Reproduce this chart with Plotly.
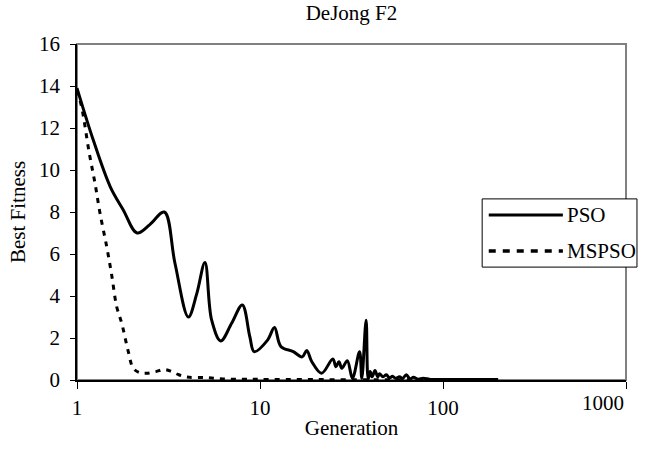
import plotly.graph_objects as go

# ---- data ----
pso_gen = [1, 1.23, 1.52, 1.79, 2.13, 2.5, 3, 3.43, 4.06, 4.51, 5, 5.44, 6.1, 7, 8, 8.8, 9.3,
           11, 12, 13, 15.2, 17, 18, 19.2, 21.7, 25, 26, 27, 28, 30, 32, 35, 36, 38, 39,
           40, 41, 42.5, 44, 45, 47, 49, 51, 53, 55, 58, 60, 63, 66, 69, 73, 78, 85, 100, 150, 200]
pso_val = [13.9, 11.4, 9.2, 8.1, 7.0, 7.4, 8.0, 5.56, 3.0, 4.1, 5.6, 2.86, 1.86, 2.7, 3.57, 2.06, 1.35,
           1.9, 2.5, 1.6, 1.35, 1.1, 1.4, 0.87, 0.32, 1.0, 0.63, 0.87, 0.56, 0.92, 0.08, 1.35, 0.08, 2.85, 0.05,
           0.4, 0.15, 0.45, 0.15, 0.3, 0.15, 0.25, 0.1, 0.18, 0.08, 0.16, 0.06, 0.25, 0.05, 0.13, 0.04, 0.08, 0.03, 0.02, 0.02, 0.02]

mspso_gen = [1, 1.06, 1.167, 1.254, 1.336, 1.453, 1.547, 1.648, 1.756, 1.907, 2.03, 2.2, 2.4, 2.7,
             3.0, 3.3, 3.6, 4, 5, 6.3, 8, 10, 20, 50, 200]
mspso_val = [13.8, 13.0, 10.8, 9.37, 7.94, 6.35, 5.0, 3.49, 2.7, 1.35, 0.56, 0.35, 0.32, 0.4,
             0.5, 0.4, 0.25, 0.14, 0.12, 0.05, 0.04, 0.03, 0.02, 0.01, 0.01]

series_names = ["PSO", "MSPSO"]
x_ticks = [1, 10, 100, 1000]
x_tick_text = ["1", "10", "100", ""]   # last label drawn right-aligned below
last_tick_label = "1000"

FONT = "Liberation Serif, Times New Roman, serif"
FS = 21

fig = go.Figure()
fig.add_trace(go.Scatter(x=pso_gen, y=pso_val, name=series_names[0], mode="lines",
                         line=dict(color="black", width=3, shape="spline", smoothing=1.0),
                         showlegend=False))
fig.add_trace(go.Scatter(x=mspso_gen, y=mspso_val, name=series_names[1], mode="lines",
                         line=dict(color="black", width=3, dash="5px,6px", shape="spline", smoothing=1.0),
                         showlegend=False))

# gray plot-area frame (top/right visible)
fig.add_shape(type="rect", xref="paper", yref="paper", x0=0, x1=1, y0=0, y1=1,
              line=dict(color="#808080", width=2), layer="below")

# manual legend
fig.add_shape(type="rect", xref="paper", yref="paper", x0=0.738, x1=1.02, y0=0.336, y1=0.539,
              line=dict(color="black", width=1), fillcolor="white", layer="above")
fig.add_shape(type="line", xref="paper", yref="paper", x0=0.750, x1=0.885, y0=0.491, y1=0.491,
              line=dict(color="black", width=3), layer="above")
fig.add_shape(type="line", xref="paper", yref="paper", x0=0.750, x1=0.885, y0=0.384, y1=0.384,
              line=dict(color="black", width=3.5, dash="7px,7px"), layer="above")
fig.add_annotation(xref="paper", yref="paper", x=0.889, y=0.491, text=series_names[0],
                   showarrow=False, xanchor="left", yanchor="middle",
                   font=dict(family=FONT, size=FS, color="black"))
fig.add_annotation(xref="paper", yref="paper", x=0.889, y=0.384, text=series_names[1],
                   showarrow=False, xanchor="left", yanchor="middle",
                   font=dict(family=FONT, size=FS, color="black"))

# last x tick label, kept inside the chart like the original
fig.add_annotation(xref="x", yref="paper", x=3, y=0, text=last_tick_label,
                   showarrow=False, xanchor="right", yanchor="top", yshift=-9,
                   font=dict(family=FONT, size=FS, color="black"))

fig.update_layout(
    width=649, height=460,
    margin=dict(l=77, r=23, t=44, b=80, autoexpand=False),
    paper_bgcolor="white", plot_bgcolor="white",
    font=dict(family=FONT, size=FS, color="black"),
    title=dict(text="DeJong F2", x=0.5, xref="paper", xanchor="center",
               y=1 - 13 / 460, yref="container", yanchor="middle",
               font=dict(family=FONT, size=FS, color="black")),
    xaxis=dict(type="log", range=[0, 3], tickvals=x_ticks, ticktext=x_tick_text,
               ticks="outside", ticklen=7, tickwidth=1, tickcolor="black",
               showline=True, linecolor="black", linewidth=1.5,
               showgrid=False, zeroline=False, automargin=False,
               ticklabelstandoff=1,
               tickfont=dict(family=FONT, size=FS),
               title=dict(text="Generation", standoff=1, font=dict(family=FONT, size=FS))),
    yaxis=dict(range=[0, 16], dtick=2, ticks="outside", ticklen=5, tickwidth=1, tickcolor="black",
               showline=True, linecolor="black", linewidth=1.5,
               showgrid=False, zeroline=False, automargin=False,
               ticklabelstandoff=6,
               tickfont=dict(family=FONT, size=FS),
               title=dict(text="Best Fitness", standoff=8, font=dict(family=FONT, size=FS))),
)

# remove the browser's default 8px page margin so the figure sits at the window origin
fig.write_html("out.html", config={"displayModeBar": False},
               post_script="document.body.style.margin='0';")
